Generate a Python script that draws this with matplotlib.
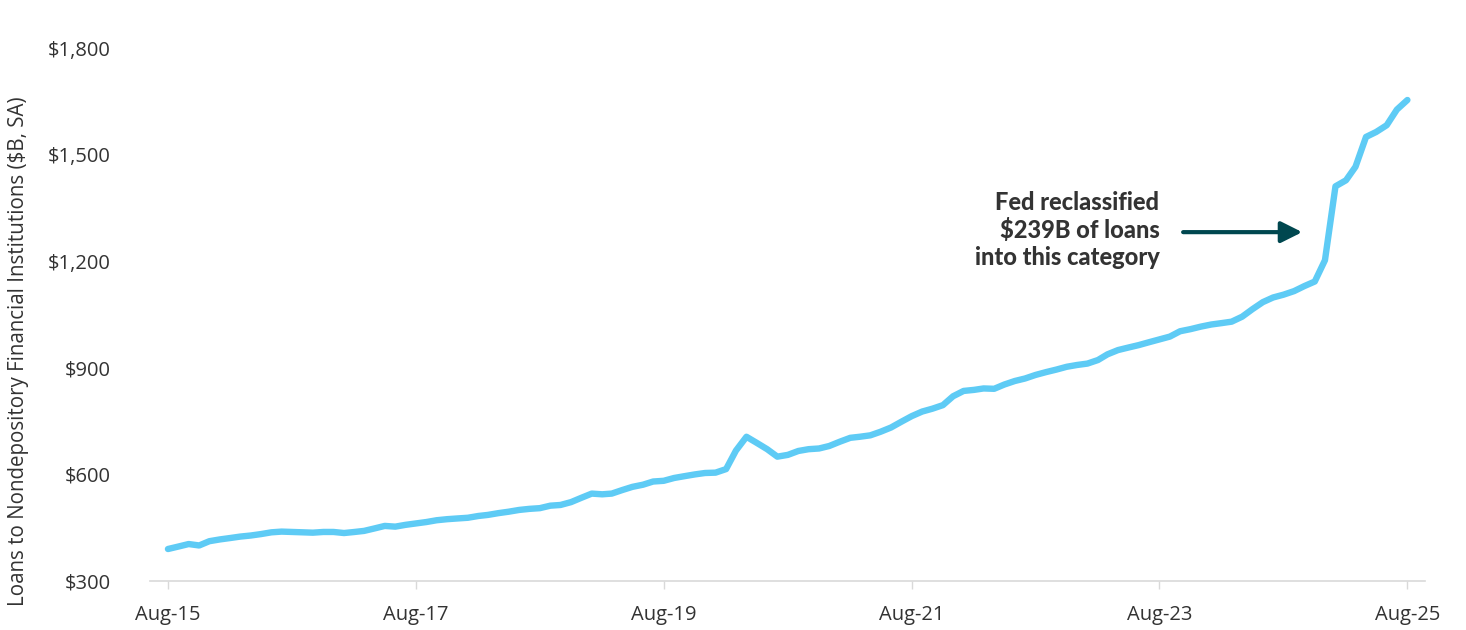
import numpy as np
import pandas as pd
import matplotlib
matplotlib.use("Agg")
import matplotlib.pyplot as plt
from matplotlib.ticker import FuncFormatter

# Monthly loans to nondepository financial institutions, $B seasonally adjusted
start_month = "2015-08-01"
loans = [
    390, 397, 404, 400, 412, 417, 421, 425, 428, 432, 437, 439,
    438, 437, 436, 438, 438, 435, 438, 441, 448, 455, 453, 458,
    462, 466, 471, 474, 476, 478, 483, 486, 491, 495, 500, 503,
    505, 512, 514, 522, 534, 546, 544, 546, 556, 565, 571, 580,
    582, 590, 595, 600, 604, 605, 615, 667, 706, 689, 671, 650,
    655, 666, 671, 673, 680, 692, 703, 706, 710, 720, 732, 748,
    764, 777, 785, 795, 820, 835, 838, 842, 841, 853, 863, 870,
    880, 888, 895, 903, 908, 912, 922, 938, 950, 957, 964, 972,
    980, 988, 1003, 1009, 1016, 1022, 1026, 1030, 1044, 1065, 1085, 1098,
    1106, 1116, 1130, 1143, 1203, 1411, 1428, 1466, 1550, 1564, 1583, 1627,
    1654,
]
y_ticks = [300, 600, 900, 1200, 1500, 1800]
x_tick_labels = ["Aug-15", "Aug-17", "Aug-19", "Aug-21", "Aug-23", "Aug-25"]
note = "Fed reclassified\n$239B of loans\ninto this category"

dates = pd.date_range(start_month, periods=len(loans), freq="MS")
x_ticks = pd.to_datetime(["2015-08-01", "2017-08-01", "2019-08-01",
                          "2021-08-01", "2023-08-01", "2025-08-01"])

text_color = "#333333"
line_color = "#5ecbf5"
arrow_color = "#00474f"

fig = plt.figure(figsize=(14.66, 6.30), dpi=100)
ax = fig.add_axes([0.1023, 0.0778, 0.870, 0.874])

ax.plot(dates, loans, color=line_color, lw=4.6, solid_capstyle="round",
        solid_joinstyle="round")

ax.set_ylim(300, 1850)
ax.set_xlim(dates[0] - pd.Timedelta(days=53), dates[-1] + pd.Timedelta(days=53))

ax.set_yticks(y_ticks)
ax.yaxis.set_major_formatter(FuncFormatter(lambda v, p: f"${v:,.0f}"))
ax.set_xticks(x_ticks)
ax.set_xticklabels(x_tick_labels)

for side in ["top", "right", "left"]:
    ax.spines[side].set_visible(False)
ax.spines["bottom"].set_color("#d9d9d9")
ax.spines["bottom"].set_linewidth(1.2)

ax.tick_params(axis="y", length=0, pad=28, labelsize=14.5, labelcolor=text_color)
ax.tick_params(axis="x", length=6, width=1, color="#d9d9d9", pad=11,
               labelsize=14.5, labelcolor=text_color)
for lab in ax.get_xticklabels() + ax.get_yticklabels():
    lab.set_fontfamily("Open Sans")

ax.set_ylabel("Loans to Nondepository Financial Institutions ($B, SA)",
              fontsize=14.8, color=text_color, family="Open Sans")
ax.yaxis.set_label_coords(-0.095, 0.418)

# annotation for the 2024 reclassification jump
ax.text(pd.Timestamp("2023-08-01"), 1288, note,
        ha="right", va="center", fontsize=17, fontweight="black",
        family="Lato", color=text_color, linespacing=1.2)
ax.annotate("", xy=(pd.Timestamp("2024-09-25"), 1282),
            xytext=(pd.Timestamp("2023-10-10"), 1282),
            arrowprops=dict(arrowstyle="-|>", lw=3, color=arrow_color,
                            mutation_scale=32, shrinkA=0, shrinkB=0))

fig.savefig("out.png", dpi=100)
